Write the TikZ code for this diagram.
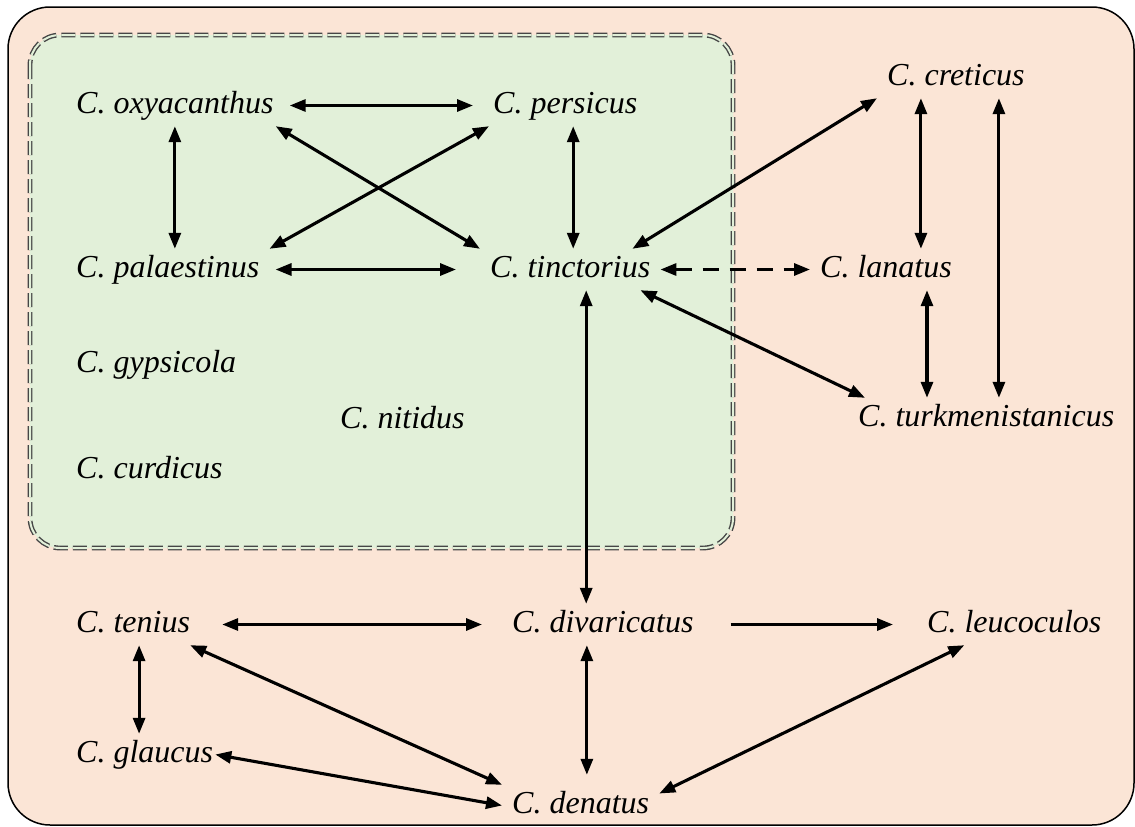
\documentclass[tikz,border=0pt]{standalone}
\usepackage{fontspec}
\setmainfont{Liberation Serif}
\usepackage{xcolor}
\usepackage{tikz}
\usetikzlibrary{arrows.meta, calc}

\definecolor{boxpeach}{HTML}{FBE5D6}
\definecolor{boxgreen}{HTML}{E2F0D9}

\begin{document}
\begin{tikzpicture}[x=1pt, y=-1pt, >={Triangle[length=16pt, width=12pt]},
    every edge/.style={draw, line width=3.1pt},
    sp/.style={font=\fontsize{32}{36}\selectfont\itshape, anchor=base west, xshift=-10pt,
               inner xsep=10pt, inner ysep=6pt, text height=22pt, text depth=7pt}]
    \useasboundingbox (0,0) rectangle (1135,827);

    % group boxes
    \draw[line width=1.5pt, fill=boxpeach, rounded corners=42pt] (8,7) rectangle (1134,825);
    \draw[draw=gray!55!black, double=boxgreen, double distance=2pt, line width=1.4pt,
          dash pattern=on 14pt off 5pt, fill=boxgreen, rounded corners=30pt] (30,35) rectangle (733,548);

    % species
    \node[sp] (oxy) at (76,113) {C. oxyacanthus};
    \node[sp] (per) at (493,113) {C. persicus};
    \node[sp] (pal) at (76,277) {C. palaestinus};
    \node[sp] (tinc) at (490,277) {C. tinctorius};
    \node[sp] (gyp) at (76,372) {C. gypsicola};
    \node[sp] (nit) at (340,428) {C. nitidus};
    \node[sp] (cur) at (76,478) {C. curdicus};
    \node[sp] (cre) at (887,85) {C. creticus};
    \node[sp] (lan) at (820,277) {C. lanatus};
    \node[sp] (tur) at (858,426) {C. turkmenistanicus};
    \node[sp] (ten) at (76,632) {C. tenius};
    \node[sp] (div) at (512,632) {C. divaricatus};
    \node[sp] (leu) at (927,632) {C. leucoculos};
    \node[sp] (gla) at (76,762) {C. glaucus};
    \node[sp] (den) at (512,813) {C. denatus};

    \path[<->]
        (oxy) edge[shorten >=10pt, shorten <=6pt] (per)
        (oxy.south) edge (oxy.south |- pal.north)
        ([xshift=-8pt]oxy.south east) edge (tinc.north west)
        ([xshift=6pt]per.south west) edge (pal.north east)
        ([xshift=8pt]per.south) edge ([xshift=8pt]per.south |- tinc.north)
        (pal) edge[shorten >=24pt, shorten <=6pt] (tinc)
        ([xshift=-28pt]tinc.north east) edge (cre.south west)
        (tinc) edge[dash pattern=on 16pt off 11pt] (lan)
        ([xshift=-20pt]tinc.south east) edge ([xshift=17pt]tur.north west)
        ([xshift=16pt]tinc.south) edge ([xshift=16pt]tinc.south |- div.north)
        ([xshift=-35pt]cre.south) edge ([xshift=-35pt]cre.south |- lan.north)
        ([xshift=43pt]cre.south) edge ([xshift=43pt]cre.south |- tur.north)
        ([xshift=41pt]lan.south) edge ([xshift=41pt]lan.south |- tur.north)
        (ten) edge[shorten <=22pt, shorten >=20pt] (div)
        ([xshift=6pt]ten.south) edge ([xshift=6pt]ten.south |- gla.north)
        ([xshift=-10pt]ten.south east) edge (den.north west)
        ([xshift=-8pt]gla.east) edge (den.west)
        ([xshift=-16pt]div.south) edge[shorten >=10pt] ([xshift=-16pt]div.south |- den.north)
        ([xshift=-50pt]leu.south) edge ([yshift=12pt]den.east);
    \path[->]
        (div) edge[shorten <=27pt, shorten >=24pt] (leu);
\end{tikzpicture}
\end{document}
